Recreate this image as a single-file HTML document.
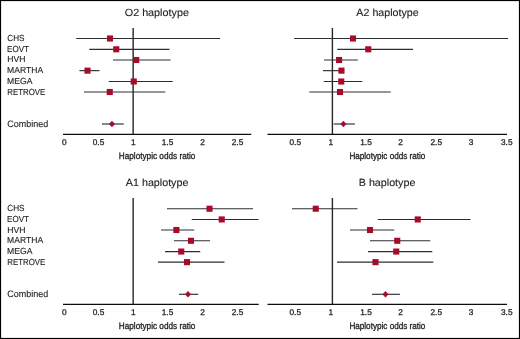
<!DOCTYPE html>
<html><head><meta charset="utf-8"><title>Haplotype forest plots</title>
<style>
html,body{margin:0;padding:0;background:#fff;}
body{width:520px;height:339px;overflow:hidden;font-family:"Liberation Sans",sans-serif;}
svg{display:block;will-change:transform;}
text{font-family:"Liberation Sans",sans-serif;fill:#1f1f1f;stroke:#1f1f1f;stroke-width:0.12px;text-rendering:geometricPrecision;}
</style></head><body>
<svg width="520" height="339" viewBox="0 0 520 339">
<rect x="0" y="0" width="520" height="339" fill="#fff"/>
<!-- outer border -->
<rect x="0.55" y="0.55" width="518.9" height="337.9" fill="none" stroke="#000" stroke-width="1.1"/>
<g>
<line x1="133.15" y1="28" x2="133.15" y2="134.4" stroke="#262626" stroke-width="1.4"/>
<line x1="63" y1="134.4" x2="251.25" y2="134.4" stroke="#0d0d0d" stroke-width="1.25"/>
<line x1="76.25" y1="38.5" x2="220" y2="38.5" stroke="#2b2e30" stroke-width="1.15"/>
<rect x="106.95" y="35.45" width="6.1" height="6.1" fill="#a60b2a"/>
<line x1="89.25" y1="49.3" x2="169.5" y2="49.3" stroke="#2b2e30" stroke-width="1.15"/>
<rect x="113.20" y="46.25" width="6.1" height="6.1" fill="#a60b2a"/>
<line x1="113" y1="60.0" x2="170.5" y2="60.0" stroke="#2b2e30" stroke-width="1.15"/>
<rect x="133.20" y="56.95" width="6.1" height="6.1" fill="#a60b2a"/>
<line x1="79.4" y1="70.65" x2="99.5" y2="70.65" stroke="#2b2e30" stroke-width="1.15"/>
<rect x="84.45" y="67.60" width="6.1" height="6.1" fill="#a60b2a"/>
<line x1="108.75" y1="81.5" x2="172.75" y2="81.5" stroke="#2b2e30" stroke-width="1.15"/>
<rect x="130.70" y="78.45" width="6.1" height="6.1" fill="#a60b2a"/>
<line x1="84" y1="92.0" x2="165.25" y2="92.0" stroke="#2b2e30" stroke-width="1.15"/>
<rect x="106.70" y="88.95" width="6.1" height="6.1" fill="#a60b2a"/>
<line x1="102.0" y1="124.0" x2="123.7" y2="124.0" stroke="#2b2e30" stroke-width="1.15"/>
<path d="M109.20 124.0 L111.95 121.05 L114.70 124.0 L111.95 126.95Z" fill="#a60b2a" stroke="#a60b2a" stroke-width="0.5" stroke-linejoin="round"/>
<text x="124.75" y="16.3" font-size="10.4" textLength="64.14" lengthAdjust="spacingAndGlyphs">O2 haplotype</text>
<text x="64.25" y="144.95" font-size="8.3" text-anchor="middle" style="stroke-width:0.28px">0</text>
<text x="98.5" y="144.95" font-size="8.3" text-anchor="middle" style="stroke-width:0.28px">0.5</text>
<text x="133.25" y="144.95" font-size="8.3" text-anchor="middle" style="stroke-width:0.28px">1</text>
<text x="167.5" y="144.95" font-size="8.3" text-anchor="middle" style="stroke-width:0.28px">1.5</text>
<text x="202.5" y="144.95" font-size="8.3" text-anchor="middle" style="stroke-width:0.28px">2</text>
<text x="237.5" y="144.95" font-size="8.3" text-anchor="middle" style="stroke-width:0.28px">2.5</text>
<text x="118.75" y="158.7" font-size="9.3" textLength="76.64" lengthAdjust="spacingAndGlyphs" style="stroke-width:0.32px">Haplotypic odds ratio</text>
<text x="7.25" y="40.80" font-size="8.8" textLength="17.28" lengthAdjust="spacingAndGlyphs">CHS</text>
<text x="7.12" y="51.50" font-size="8.8" textLength="21.90" lengthAdjust="spacingAndGlyphs">EOVT</text>
<text x="7.25" y="62.40" font-size="8.8" textLength="18.23" lengthAdjust="spacingAndGlyphs">HVH</text>
<text x="7.12" y="73.00" font-size="8.8" textLength="36.02" lengthAdjust="spacingAndGlyphs">MARTHA</text>
<text x="7.12" y="83.80" font-size="8.8" textLength="25.40" lengthAdjust="spacingAndGlyphs">MEGA</text>
<text x="7.25" y="94.50" font-size="8.8" textLength="38.02" lengthAdjust="spacingAndGlyphs">RETROVE</text>
<text x="7.25" y="126.80" font-size="9.3" textLength="40.90" lengthAdjust="spacingAndGlyphs">Combined</text>
<line x1="332.4" y1="28" x2="332.4" y2="134.4" stroke="#262626" stroke-width="1.4"/>
<line x1="267.5" y1="134.4" x2="507" y2="134.4" stroke="#0d0d0d" stroke-width="1.25"/>
<line x1="294.25" y1="38.5" x2="508" y2="38.5" stroke="#2b2e30" stroke-width="1.15"/>
<rect x="349.95" y="35.45" width="6.1" height="6.1" fill="#a60b2a"/>
<line x1="337.25" y1="49.3" x2="413" y2="49.3" stroke="#2b2e30" stroke-width="1.15"/>
<rect x="365.20" y="46.25" width="6.1" height="6.1" fill="#a60b2a"/>
<line x1="324.1" y1="60.0" x2="357.8" y2="60.0" stroke="#2b2e30" stroke-width="1.15"/>
<rect x="336.05" y="56.95" width="6.1" height="6.1" fill="#a60b2a"/>
<line x1="323" y1="70.65" x2="344" y2="70.65" stroke="#2b2e30" stroke-width="1.15"/>
<rect x="338.45" y="67.60" width="6.1" height="6.1" fill="#a60b2a"/>
<line x1="323.7" y1="81.5" x2="362.3" y2="81.5" stroke="#2b2e30" stroke-width="1.15"/>
<rect x="338.20" y="78.45" width="6.1" height="6.1" fill="#a60b2a"/>
<line x1="309.25" y1="92.0" x2="390.75" y2="92.0" stroke="#2b2e30" stroke-width="1.15"/>
<rect x="336.95" y="88.95" width="6.1" height="6.1" fill="#a60b2a"/>
<line x1="333.6" y1="124.0" x2="354.85" y2="124.0" stroke="#2b2e30" stroke-width="1.15"/>
<path d="M340.65 124.0 L343.4 121.05 L346.15 124.0 L343.4 126.95Z" fill="#a60b2a" stroke="#a60b2a" stroke-width="0.5" stroke-linejoin="round"/>
<text x="356.38" y="16.3" font-size="10.4" textLength="62.25" lengthAdjust="spacingAndGlyphs">A2 haplotype</text>
<text x="295.25" y="144.95" font-size="8.3" text-anchor="middle" style="stroke-width:0.28px">0.5</text>
<text x="330.75" y="144.95" font-size="8.3" text-anchor="middle" style="stroke-width:0.28px">1</text>
<text x="366" y="144.95" font-size="8.3" text-anchor="middle" style="stroke-width:0.28px">1.5</text>
<text x="400.5" y="144.95" font-size="8.3" text-anchor="middle" style="stroke-width:0.28px">2</text>
<text x="436.25" y="144.95" font-size="8.3" text-anchor="middle" style="stroke-width:0.28px">2.5</text>
<text x="471" y="144.95" font-size="8.3" text-anchor="middle" style="stroke-width:0.28px">3</text>
<text x="506.75" y="144.95" font-size="8.3" text-anchor="middle" style="stroke-width:0.28px">3.5</text>
<text x="349.38" y="158.7" font-size="9.3" textLength="76.01" lengthAdjust="spacingAndGlyphs" style="stroke-width:0.32px">Haplotypic odds ratio</text>
<line x1="133.15" y1="198" x2="133.15" y2="304.4" stroke="#262626" stroke-width="1.4"/>
<line x1="63" y1="304.4" x2="258.75" y2="304.4" stroke="#0d0d0d" stroke-width="1.25"/>
<line x1="167" y1="208.72" x2="253" y2="208.72" stroke="#2b2e30" stroke-width="1.15"/>
<rect x="206.45" y="205.67" width="6.1" height="6.1" fill="#a60b2a"/>
<line x1="191.75" y1="219.45" x2="258.5" y2="219.45" stroke="#2b2e30" stroke-width="1.15"/>
<rect x="218.70" y="216.40" width="6.1" height="6.1" fill="#a60b2a"/>
<line x1="161" y1="230.0" x2="194.25" y2="230.0" stroke="#2b2e30" stroke-width="1.15"/>
<rect x="173.35" y="226.95" width="6.1" height="6.1" fill="#a60b2a"/>
<line x1="174" y1="240.78" x2="210" y2="240.78" stroke="#2b2e30" stroke-width="1.15"/>
<rect x="187.95" y="237.73" width="6.1" height="6.1" fill="#a60b2a"/>
<line x1="165" y1="251.55" x2="200.25" y2="251.55" stroke="#2b2e30" stroke-width="1.15"/>
<rect x="178.20" y="248.50" width="6.1" height="6.1" fill="#a60b2a"/>
<line x1="158" y1="262.15" x2="224.5" y2="262.15" stroke="#2b2e30" stroke-width="1.15"/>
<rect x="183.95" y="259.10" width="6.1" height="6.1" fill="#a60b2a"/>
<line x1="179.0" y1="294.3" x2="198.2" y2="294.3" stroke="#2b2e30" stroke-width="1.15"/>
<path d="M185.22 294.3 L187.97 291.35 L190.72 294.3 L187.97 297.25Z" fill="#a60b2a" stroke="#a60b2a" stroke-width="0.5" stroke-linejoin="round"/>
<text x="125.88" y="186.3" font-size="10.4" textLength="62.51" lengthAdjust="spacingAndGlyphs">A1 haplotype</text>
<text x="64.25" y="314.95" font-size="8.3" text-anchor="middle" style="stroke-width:0.28px">0</text>
<text x="98.5" y="314.95" font-size="8.3" text-anchor="middle" style="stroke-width:0.28px">0.5</text>
<text x="133.25" y="314.95" font-size="8.3" text-anchor="middle" style="stroke-width:0.28px">1</text>
<text x="167.5" y="314.95" font-size="8.3" text-anchor="middle" style="stroke-width:0.28px">1.5</text>
<text x="202.5" y="314.95" font-size="8.3" text-anchor="middle" style="stroke-width:0.28px">2</text>
<text x="237.5" y="314.95" font-size="8.3" text-anchor="middle" style="stroke-width:0.28px">2.5</text>
<text x="118.75" y="328.7" font-size="9.3" textLength="76.64" lengthAdjust="spacingAndGlyphs" style="stroke-width:0.32px">Haplotypic odds ratio</text>
<text x="7.25" y="211.05" font-size="8.8" textLength="17.28" lengthAdjust="spacingAndGlyphs">CHS</text>
<text x="7.12" y="221.75" font-size="8.8" textLength="21.90" lengthAdjust="spacingAndGlyphs">EOVT</text>
<text x="7.25" y="232.65" font-size="8.8" textLength="18.23" lengthAdjust="spacingAndGlyphs">HVH</text>
<text x="7.12" y="243.25" font-size="8.8" textLength="36.02" lengthAdjust="spacingAndGlyphs">MARTHA</text>
<text x="7.12" y="254.05" font-size="8.8" textLength="25.40" lengthAdjust="spacingAndGlyphs">MEGA</text>
<text x="7.25" y="264.75" font-size="8.8" textLength="38.02" lengthAdjust="spacingAndGlyphs">RETROVE</text>
<text x="7.25" y="297.05" font-size="9.3" textLength="40.90" lengthAdjust="spacingAndGlyphs">Combined</text>
<line x1="332.4" y1="198" x2="332.4" y2="304.4" stroke="#262626" stroke-width="1.4"/>
<line x1="267.5" y1="304.4" x2="507" y2="304.4" stroke="#0d0d0d" stroke-width="1.25"/>
<line x1="292" y1="208.72" x2="357.5" y2="208.72" stroke="#2b2e30" stroke-width="1.15"/>
<rect x="312.70" y="205.67" width="6.1" height="6.1" fill="#a60b2a"/>
<line x1="377.75" y1="219.45" x2="470.5" y2="219.45" stroke="#2b2e30" stroke-width="1.15"/>
<rect x="414.70" y="216.40" width="6.1" height="6.1" fill="#a60b2a"/>
<line x1="350" y1="230.0" x2="394.25" y2="230.0" stroke="#2b2e30" stroke-width="1.15"/>
<rect x="366.95" y="226.95" width="6.1" height="6.1" fill="#a60b2a"/>
<line x1="370" y1="240.78" x2="430.3" y2="240.78" stroke="#2b2e30" stroke-width="1.15"/>
<rect x="394.20" y="237.73" width="6.1" height="6.1" fill="#a60b2a"/>
<line x1="368" y1="251.55" x2="432.3" y2="251.55" stroke="#2b2e30" stroke-width="1.15"/>
<rect x="393.20" y="248.50" width="6.1" height="6.1" fill="#a60b2a"/>
<line x1="337" y1="262.15" x2="433.3" y2="262.15" stroke="#2b2e30" stroke-width="1.15"/>
<rect x="372.45" y="259.10" width="6.1" height="6.1" fill="#a60b2a"/>
<line x1="372.05" y1="294.3" x2="399.9" y2="294.3" stroke="#2b2e30" stroke-width="1.15"/>
<path d="M382.75 294.3 L385.5 291.35 L388.25 294.3 L385.5 297.25Z" fill="#a60b2a" stroke="#a60b2a" stroke-width="0.5" stroke-linejoin="round"/>
<text x="358.75" y="186.3" font-size="10.4" textLength="56.65" lengthAdjust="spacingAndGlyphs">B haplotype</text>
<text x="295.25" y="314.95" font-size="8.3" text-anchor="middle" style="stroke-width:0.28px">0.5</text>
<text x="330.75" y="314.95" font-size="8.3" text-anchor="middle" style="stroke-width:0.28px">1</text>
<text x="366" y="314.95" font-size="8.3" text-anchor="middle" style="stroke-width:0.28px">1.5</text>
<text x="400.5" y="314.95" font-size="8.3" text-anchor="middle" style="stroke-width:0.28px">2</text>
<text x="436.25" y="314.95" font-size="8.3" text-anchor="middle" style="stroke-width:0.28px">2.5</text>
<text x="471" y="314.95" font-size="8.3" text-anchor="middle" style="stroke-width:0.28px">3</text>
<text x="506.75" y="314.95" font-size="8.3" text-anchor="middle" style="stroke-width:0.28px">3.5</text>
<text x="349.38" y="328.7" font-size="9.3" textLength="76.01" lengthAdjust="spacingAndGlyphs" style="stroke-width:0.32px">Haplotypic odds ratio</text>
</g>
</svg>
</body></html>
